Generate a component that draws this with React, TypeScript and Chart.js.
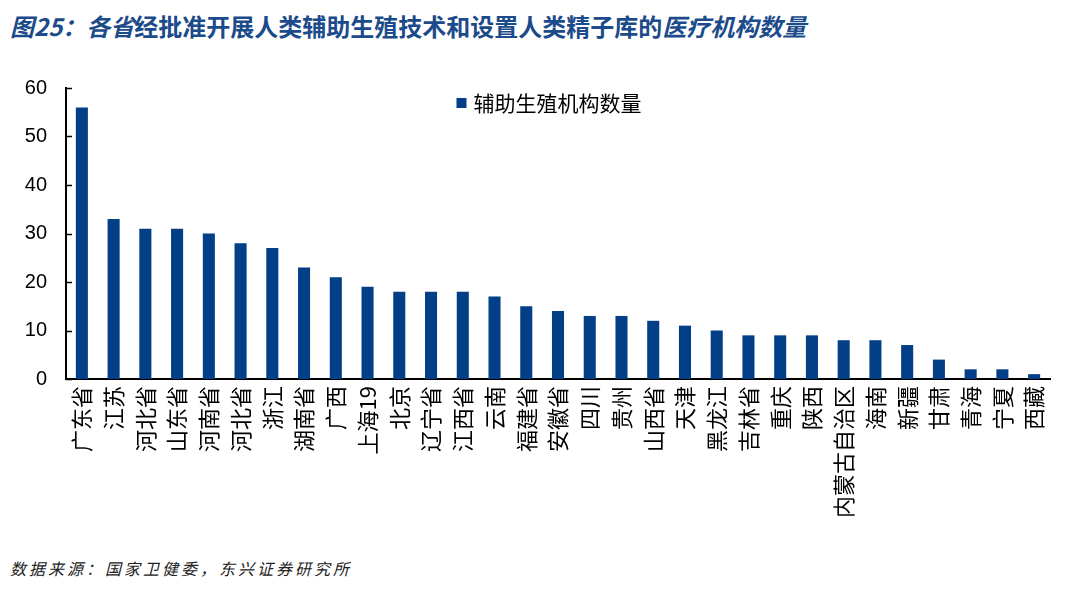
import React, { useEffect, useRef } from "react";
import { Chart, registerables } from "chart.js";

Chart.register(...registerables);

const titlePre = "图25：各省";
const titleMid = "经批准开展人类辅助生殖技术和设置人类精子库的";
const titlePost = "医疗机构数量";
const sourceText = "数据来源：国家卫健委，东兴证券研究所";
const seriesName = "辅助生殖机构数量";

const provinces = [
  "广东省", "江苏", "河北省", "山东省", "河南省", "河北省", "浙江", "湖南省", "广西", "上海19",
  "北京", "辽宁省", "江西省", "云南", "福建省", "安徽省", "四川", "贵州", "山西省", "天津",
  "黑龙江", "吉林省", "重庆", "陕西", "内蒙古自治区", "海南", "新疆", "甘肃", "青海", "宁夏", "西藏",
];
const counts = [
  56, 33, 31, 31, 30, 28, 27, 23, 21, 19,
  18, 18, 18, 17, 15, 14, 13, 13, 12, 11,
  10, 9, 9, 9, 8, 8, 7, 4, 2, 2, 1,
];
const yTicks = [0, 10, 20, 30, 40, 50, 60];

const BAR_COLOR = "#023f86";
const CJK = "'Noto Sans CJK SC', 'Noto Sans', sans-serif";

const innerTicks = {
  id: "innerTicks",
  afterDraw(chart: any) {
    const y = chart.scales.y;
    const ctx = chart.ctx;
    ctx.save();
    ctx.strokeStyle = "#000";
    ctx.lineWidth = 1.5;
    yTicks.forEach((v) => {
      const py = Math.round(y.getPixelForValue(v)) + 0.5;
      ctx.beginPath();
      ctx.moveTo(y.right, py);
      ctx.lineTo(y.right + 6, py);
      ctx.stroke();
    });
    ctx.restore();
  },
};

const innerLegend = {
  id: "innerLegend",
  afterDraw(chart: any) {
    const ds = chart.data.datasets[0];
    const ctx = chart.ctx;
    const area = chart.chartArea;
    ctx.save();
    ctx.font = `21px ${CJK}`;
    const text = String(ds.label);
    const tw = ctx.measureText(text).width;
    const box = 10;
    const gap = 7;
    const total = box + gap + tw;
    const cx = area.left + (area.right - area.left) / 2 - 9;
    const x0 = cx - total / 2;
    const cy = area.top + 15;
    ctx.fillStyle = ds.backgroundColor;
    ctx.fillRect(x0, cy - box / 2, box, box);
    ctx.fillStyle = "#000";
    ctx.textBaseline = "middle";
    ctx.textAlign = "left";
    ctx.fillText(text, x0 + box + gap, cy);
    ctx.restore();
  },
};

export default function App() {
  const ref = useRef<HTMLCanvasElement | null>(null);
  useEffect(() => {
    if (!ref.current) return;
    const chart = new Chart(ref.current, {
      type: "bar",
      data: {
        labels: provinces,
        datasets: [
          {
            label: seriesName,
            data: counts,
            backgroundColor: BAR_COLOR,
            borderWidth: 0,
            barPercentage: 0.38,
            categoryPercentage: 1,
          },
        ],
      },
      options: {
        animation: false,
        responsive: false,
        maintainAspectRatio: false,
        layout: { padding: { top: 6, right: 22, left: 0, bottom: 0 } },
        plugins: {
          tooltip: { enabled: false },
          legend: { display: false },
        },
        scales: {
          x: {
            grid: { display: false },
            border: { display: true, color: "#000", width: 2 },
            ticks: {
              minRotation: 90,
              maxRotation: 90,
              autoSkip: false,
              padding: -1,
              color: "#000",
              font: { family: CJK, size: 22 },
            },
            afterFit: (scale: any) => {
              scale.height = 151;
            },
          },
          y: {
            min: 0,
            max: 60,
            grid: { display: false },
            border: { display: true, color: "#000", width: 2 },
            ticks: {
              stepSize: 10,
              padding: 11,
              color: "#000",
              font: { family: "'Liberation Sans', Arial, sans-serif", size: 20 },
            },
            afterFit: (scale: any) => {
              scale.width = 66;
            },
          },
        },
      },
      plugins: [innerTicks, innerLegend],
    });
    return () => chart.destroy();
  }, []);

  return (
    <div
      style={{
        position: "fixed",
        left: 0,
        top: 0,
        width: 1072,
        height: 601,
        background: "#fff",
        overflow: "hidden",
      }}
    >
      <div
        style={{
          position: "absolute",
          left: 10,
          top: 11,
          fontFamily: CJK,
          fontWeight: 700,
          fontSize: 24,
          color: "#1c4b8b",
          whiteSpace: "nowrap",
          lineHeight: "30px",
        }}
      >
        <span style={{ fontStyle: "italic" }}>{titlePre}</span>
        <span>{titleMid}</span>
        <span style={{ fontStyle: "italic" }}>{titlePost}</span>
      </div>
      <canvas
        ref={ref}
        width={1072}
        height={465}
        style={{ position: "absolute", left: 0, top: 65, width: 1072, height: 465 }}
      />
      <div
        style={{
          position: "absolute",
          left: 10,
          top: 556,
          fontFamily: CJK,
          fontStyle: "italic",
          fontSize: 16,
          letterSpacing: 3,
          color: "#222",
          whiteSpace: "nowrap",
        }}
      >
        {sourceText}
      </div>
    </div>
  );
}
